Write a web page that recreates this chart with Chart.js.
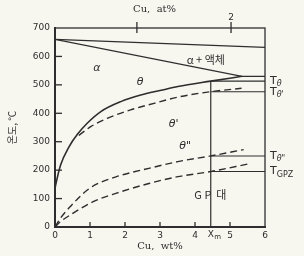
<!DOCTYPE html>
<html><head><meta charset="utf-8">
<script src="https://cdn.jsdelivr.net/npm/chart.js@4"></script>
<style>html,body{margin:0;padding:0;background:#f7f6ef;}#c{display:block}</style>
</head><body>
<canvas id="c" width="304" height="256"></canvas>
<script>
// ---- data (wt% Cu, temperature °C) ----
const liquidusWt = [0, 6];
const liquidusT  = [660, 632];
const solidusWt  = [0, 5.34, 6];
const solidusT   = [660, 530, 530];
const thetaWt    = [0, 0.02, 0.16, 0.4, 0.64, 0.92, 1.31, 1.88, 2.45, 3.07, 3.51, 4.45, 5.34];
const thetaT     = [135, 148, 218, 282, 326, 365, 406, 441, 464, 482, 494, 513, 530];
const thetaPWt   = [0.68, 1.02, 1.49, 2.16, 2.83, 3.55, 4.45, 5.33];
const thetaPT    = [322, 353, 382, 412, 435, 458, 476, 488];
const theta2Wt   = [0, 0.15, 0.43, 1.0, 1.76, 2.71, 3.51, 4.45, 5.39];
const theta2T    = [0, 30, 71, 137, 177, 207, 230, 250, 272];
const gpzWt      = [0, 0.15, 0.43, 1.09, 1.76, 2.71, 3.51, 4.45, 5.53];
const gpzT       = [0, 18, 42, 89, 119, 154, 177, 195, 222];
const xmWt       = 4.45;
const levelSubs  = ['θ', "θ'", 'θ"', 'GPZ'];
const levelT     = [513, 476, 250, 195];
const xTicks     = [0, 1, 2, 3, 4, 5, 6];
const yTicks     = [0, 100, 200, 300, 400, 500, 600, 700];
const atWt       = [2.34, 5.03];
const atLabels   = ['', '2'];
const regionText = ['α', 'θ', 'α + 액체', "θ'", 'θ"', 'G P  대'];
const regionWt   = [1.2, 2.43, 4.31, 3.39, 3.72, 4.44];
const regionT    = [559, 511, 588, 362, 285, 113];

const INK = '#2e2e2e';
const pts = (xs, ys) => xs.map((x, i) => ({x, y: ys[i]}));
const ds = (xs, ys, dashed, w, smooth) => ({
  data: pts(xs, ys), showLine: true, pointRadius: 0, borderColor: INK,
  borderWidth: w || 1.3, borderDash: dashed ? [7, 4] : [],
  cubicInterpolationMode: smooth ? 'monotone' : 'default', tension: 0
});

const datasets = [
  ds(liquidusWt, liquidusT, false, 1.4),
  ds(solidusWt, solidusT, false, 1.4),
  ds(thetaWt, thetaT, false, 1.6, true),
  ds(thetaPWt, thetaPT, true, 1.4, true),
  ds(theta2Wt, theta2T, true, 1.4, true),
  ds(gpzWt, gpzT, true, 1.4, true),
  ds([xmWt, xmWt], [0, levelT[0]], false, 1.2),
];
levelT.forEach(t => datasets.push(ds([xmWt, 6], [t, t], false, 1.1)));

const deco = {
  id: 'deco',
  afterDatasetsDraw(chart) {
    const {ctx, chartArea: a, scales: {x, y}} = chart;
    ctx.save();
    ctx.strokeStyle = INK; ctx.fillStyle = INK;
    // frame
    ctx.lineWidth = 1.3;
    ctx.strokeRect(a.left, a.top, a.right - a.left, a.bottom - a.top);
    // inward ticks
    xTicks.slice(1, -1).forEach(v => {
      const px = x.getPixelForValue(v);
      ctx.beginPath(); ctx.moveTo(px, a.bottom); ctx.lineTo(px, a.bottom - 5); ctx.stroke();
    });
    yTicks.slice(1, -1).forEach(v => {
      const py = y.getPixelForValue(v);
      ctx.beginPath(); ctx.moveTo(a.left, py); ctx.lineTo(a.left + 7, py); ctx.stroke();
    });
    // top at% axis
    atWt.forEach((w, i) => {
      const px = x.getPixelForValue(w);
      ctx.beginPath(); ctx.moveTo(px, a.top - 6); ctx.lineTo(px, a.top + 5); ctx.stroke();
      ctx.font = '9px "DejaVu Sans"'; ctx.textAlign = 'center'; ctx.textBaseline = 'middle';
      if (atLabels[i]) ctx.fillText(atLabels[i], px, a.top - 10);
    });
    ctx.font = '10px "DejaVu Serif"'; ctx.textAlign = 'left'; ctx.textBaseline = 'middle';
    ctx.fillText('Cu,  at%', 133, 9);
    // Xm tick label
    const xmPx = x.getPixelForValue(xmWt);
    ctx.font = '9px "DejaVu Sans"'; ctx.textAlign = 'left';
    ctx.fillText('X', xmPx - 3, a.bottom + 8);
    ctx.font = '7px "DejaVu Sans"';
    ctx.fillText('m', xmPx + 3.5, a.bottom + 10);
    // region labels
    regionText.forEach((t, i) => {
      const px = x.getPixelForValue(regionWt[i]), py = y.getPixelForValue(regionT[i]);
      ctx.textAlign = 'center'; ctx.textBaseline = 'middle';
      if (t.includes('액') || t.includes('대')) ctx.font = '11px "Noto Sans CJK KR"';
      else ctx.font = 'italic 11px "DejaVu Sans"';
      ctx.fillText(t, px, py);
    });
    // level labels T_sub
    levelT.forEach((t, i) => {
      const px = a.right + 5, py = y.getPixelForValue(t);
      ctx.textAlign = 'left'; ctx.textBaseline = 'middle';
      ctx.font = '11px "DejaVu Sans"';
      ctx.fillText('T', px, py);
      const w = ctx.measureText('T').width;
      ctx.font = (levelSubs[i] === 'GPZ' ? '' : 'italic ') + '8px "DejaVu Sans"';
      ctx.fillText(levelSubs[i], px + w, py + 3);
    });
    ctx.restore();
  }
};

new Chart(document.getElementById('c'), {
  type: 'scatter',
  data: {datasets},
  options: {
    responsive: false, animation: false, devicePixelRatio: 1,
    layout: {padding: {left: 0, right: 39, top: 28, bottom: 0}},
    plugins: {legend: {display: false}, tooltip: {enabled: false}},
    scales: {
      x: {
        type: 'linear', min: 0, max: 6,
        afterBuildTicks: s => { s.ticks = xTicks.map(v => ({value: v})); },
        afterFit: s => { s.height = 29; },
        grid: {drawOnChartArea: false, drawTicks: false},
        border: {display: true, color: INK, width: 2},
        ticks: {color: INK, font: {family: 'DejaVu Sans', size: 9}, padding: 3, maxRotation: 0},
        title: {display: true, text: 'Cu,  wt%', color: INK, font: {family: 'DejaVu Serif', size: 10}, padding: {top: 0, bottom: 4}}
      },
      y: {
        type: 'linear', min: 0, max: 700,
        afterBuildTicks: s => { s.ticks = yTicks.map(v => ({value: v})); },
        afterFit: s => { s.width = 55; },
        grid: {drawOnChartArea: false, drawTicks: false},
        border: {display: true, color: INK, width: 2},
        ticks: {color: INK, font: {family: 'DejaVu Sans', size: 9}, padding: 5},
        title: {display: true, text: '온도, °C', color: INK, font: {family: 'Noto Sans CJK KR', size: 10}, padding: {top: 6, bottom: 0}}
      }
    }
  },
  plugins: [deco]
});
</script>
</body></html>
